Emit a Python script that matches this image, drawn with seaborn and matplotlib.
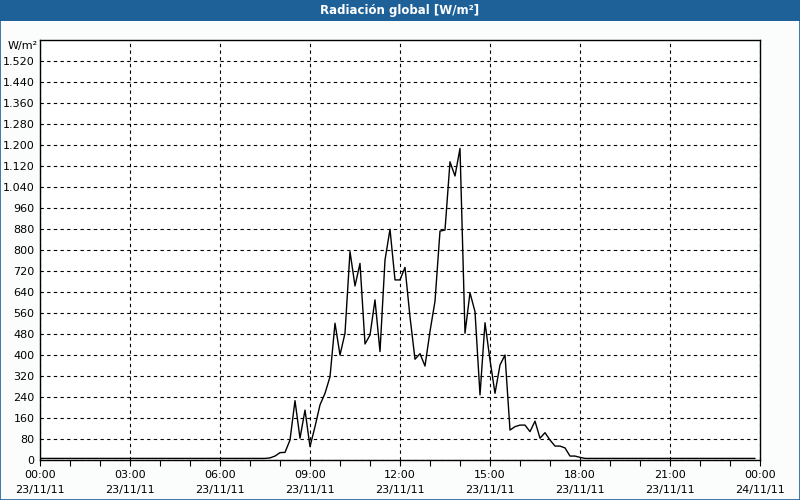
import matplotlib
matplotlib.use("Agg")
import matplotlib.pyplot as plt
import matplotlib.dates as mdates
from matplotlib.patches import Rectangle
from matplotlib.ticker import MultipleLocator, FuncFormatter
import pandas as pd
import seaborn as sns

# ---- data (10-minute samples, 23/11/2011 00:00 .. 23:50) ----
start = "2011-11-23 00:00"
radiation = [
    6, 6, 6, 6, 6, 6, 6, 6, 6, 6,
    6, 6, 6, 6, 6, 6, 6, 6, 6, 6,
    6, 6, 6, 6, 6, 6, 6, 6, 6, 6,
    6, 6, 6, 6, 6, 6, 6, 6, 6, 6,
    6, 6, 6, 6, 6, 6, 8, 15, 28, 29,
    76, 226, 83, 190, 51, 127, 210, 254, 317, 521,
    400, 483, 794, 663, 749, 442, 476, 610, 413, 762,
    879, 686, 686, 734, 545, 384, 405, 358, 490, 605,
    872, 876, 1136, 1082, 1187, 483, 637, 565, 248, 523,
    381, 254, 362, 400, 114, 127, 133, 133, 108, 148,
    83, 104, 76, 53, 53, 46, 15, 15, 10, 6,
    6, 6, 6, 6, 6, 6, 6, 6, 6, 6,
    6, 6, 6, 6, 6, 6, 6, 6, 6, 6,
    6, 6, 6, 6, 6, 6, 6, 6, 6, 6,
    6, 6, 6, 6,
]
times = pd.date_range(start, periods=len(radiation), freq="10min")
title = "Radiación global [W/m²]"
unit_label = "W/m²"
y_ticks = list(range(0, 1521, 80))

df = pd.DataFrame({"time": times, "value": radiation})

sns.set_style("white")
plt.rcParams["font.family"] = ["DejaVu Sans"]

fig = plt.figure(figsize=(8, 5), dpi=100)
fig.patch.set_facecolor("#fbfcfc")
ax = fig.add_axes([40 / 800, 1 - 460 / 500, 720 / 800, 420 / 500])
ax.set_facecolor("white")

sns.lineplot(data=df, x="time", y="value", color="black", linewidth=1.0, ax=ax)

ax.set_xlim(pd.Timestamp("2011-11-23 00:00"), pd.Timestamp("2011-11-24 00:00"))
ax.set_ylim(0, 1600)
ax.set_yticks(y_ticks)
ax.yaxis.set_major_formatter(FuncFormatter(lambda v, p: f"{int(v):,}".replace(",", ".")))
ax.xaxis.set_major_locator(mdates.HourLocator(interval=3))
ax.xaxis.set_minor_locator(mdates.HourLocator(interval=1))
ax.xaxis.set_major_formatter(mdates.DateFormatter("%H:%M\n%d/%m/%y"))
ax.set_xlabel("")
ax.set_ylabel("")

ax.grid(True, which="major", color="black", linestyle=(0, (3, 3)), linewidth=0.8)
ax.tick_params(axis="x", which="both", direction="out", length=4, width=0.8,
               colors="black", labelsize=8, pad=3, bottom=True)
ax.tick_params(axis="y", which="both", direction="out", length=0, labelsize=8,
               pad=4, left=True, colors="black")
for s in ax.spines.values():
    s.set_visible(True)
    s.set_color("black")
    s.set_linewidth(1.0)
for lbl in ax.get_xticklabels():
    lbl.set_linespacing(1.6)

# unit label
fig.text(38 / 800, 1 - 46 / 500, unit_label, ha="right", va="center", fontsize=8, color="black")

# title bar
fig.patches.append(Rectangle((0, 1 - 21 / 500), 1, 21 / 500, transform=fig.transFigure,
                             facecolor="#1e6198", edgecolor="none", zorder=0))
fig.text(0.5, 1 - 10.5 / 500, title, ha="center", va="center", fontsize=8.5,
         fontweight="bold", color="white")
# outer border
fig.patches.append(Rectangle((0.0006, 0.001), 0.9988, 0.998, transform=fig.transFigure,
                             facecolor="none", edgecolor="#1e6198", linewidth=1.2, zorder=5))

fig.savefig("out.png", dpi=100, facecolor=fig.get_facecolor())
